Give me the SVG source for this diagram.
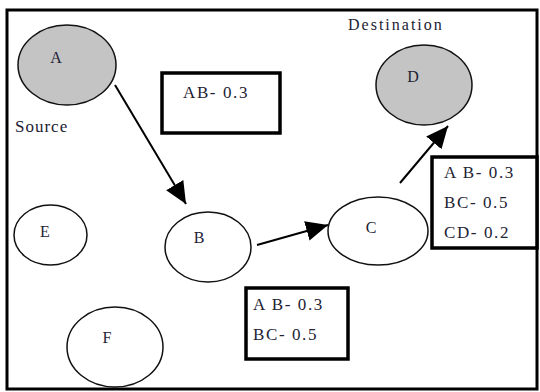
<svg xmlns="http://www.w3.org/2000/svg" width="540" height="392" viewBox="0 0 540 392">
<defs>
<style>
.node{fill:#fff;stroke:#111;stroke-width:1.5}
.gray{fill:#c4c4c4}
.box{fill:#fff;stroke:#000;stroke-width:3.5}
.lbl{font-size:16px;fill:#222233}
.txt{font-size:17px;fill:#222233;letter-spacing:1.6px}
.edge{stroke:#000;stroke-width:2;fill:none}
</style>
<marker id="arr" markerUnits="userSpaceOnUse" markerWidth="24" markerHeight="22" refX="22" refY="10" orient="auto" viewBox="0 0 24 22">
<path d="M0,0 L22,10 L0,20 Z" fill="#000"/>
</marker>
</defs>
<rect x="0" y="0" width="540" height="392" fill="#fff"/>
<rect x="7" y="10" width="530" height="379" fill="none" stroke="#000" stroke-width="3"/>

<g id="connectors">
<line class="edge" x1="115" y1="85" x2="186" y2="204" marker-end="url(#arr)"/>
<line class="edge" x1="257" y1="245" x2="328" y2="225" marker-end="url(#arr)"/>
<line class="edge" x1="400" y1="183" x2="448" y2="126" marker-end="url(#arr)"/>
</g>

<g font-family="Liberation Serif, Times New Roman, serif">
<g id="node-A">
<ellipse class="node gray" cx="67" cy="65" rx="49" ry="40"/>
<text class="lbl" x="56" y="63" text-anchor="middle">A</text>
</g>
<text class="txt" x="15" y="132" style="letter-spacing:1px">Source</text>

<g id="node-D">
<ellipse class="node gray" cx="424" cy="85" rx="48" ry="40"/>
<text class="lbl" x="413" y="82" text-anchor="middle">D</text>
</g>
<text class="txt" x="348" y="30" style="font-size:16px;letter-spacing:2px">Destination</text>

<g id="node-E">
<ellipse class="node" cx="50.5" cy="235" rx="36.5" ry="30"/>
<text class="lbl" x="45" y="237" text-anchor="middle">E</text>
</g>

<g id="node-B">
<ellipse class="node" cx="208" cy="247" rx="43" ry="35"/>
<text class="lbl" x="199" y="243" text-anchor="middle">B</text>
</g>

<g id="node-C">
<ellipse class="node" cx="378" cy="231" rx="50" ry="34"/>
<text class="lbl" x="371" y="233" text-anchor="middle">C</text>
</g>

<g id="node-F">
<ellipse class="node" cx="115" cy="347" rx="48" ry="40"/>
<text class="lbl" x="107" y="343" text-anchor="middle">F</text>
</g>

<g id="box-1">
<rect class="box" x="162" y="73" width="118" height="60"/>
<text class="txt" x="183" y="98">AB- 0.3</text>
</g>

<g id="box-2">
<rect class="box" x="246" y="288" width="102" height="71"/>
<text class="txt" x="253" y="310">A B- 0.3</text>
<text class="txt" x="253" y="340">BC- 0.5</text>
</g>

<g id="box-3">
<rect class="box" x="432" y="157" width="105" height="91"/>
<text class="txt" x="444" y="178">A B- 0.3</text>
<text class="txt" x="444" y="208">BC- 0.5</text>
<text class="txt" x="444" y="238">CD- 0.2</text>
</g>
</g>
</svg>
